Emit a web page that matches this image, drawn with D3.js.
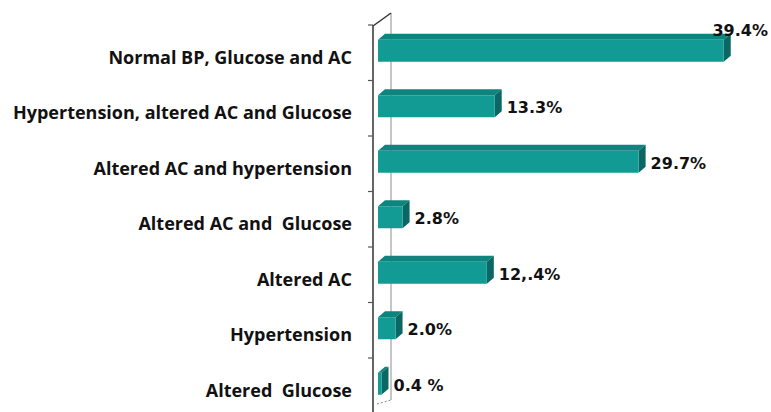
<!DOCTYPE html>
<html>
<head>
<meta charset="utf-8">
<script src="https://cdn.jsdelivr.net/npm/d3@7"></script>
<style>
  body { margin: 0; background: #fff; }
  svg { display: block; }
</style>
</head>
<body>
<div id="chart"></div>
<script>
// categories top to bottom
let categories = [
    'Normal BP, Glucose and AC',
    'Hypertension, altered AC and Glucose',
    'Altered AC and hypertension',
    'Altered AC and  Glucose',
    'Altered AC',
    'Hypertension',
    'Altered  Glucose'
];
let values = [39.4, 13.3, 29.7, 2.8, 12.4, 2.0, 0.4];
let valueLabels = ['39.4%', '13.3%', '29.7%', '2.8%', '12,.4%', '2.0%', '0.4 %'];

let W = 771, H = 412;
let svg = d3.select('#chart').append('svg').attr('width', W).attr('height', H);

// 3d depth of the bars and walls
let depthX = 7, depthY = -6;
let wallX = 373, backX = 391;

let y = d3.scaleBand().domain(categories).range([25, 413.5]);
let x = d3.scaleLinear().domain([0, 40]).range([378, 729]);

// back wall line
svg.append('line')
    .attr('x1', backX).attr('x2', backX)
    .attr('y1', 13).attr('y2', 400)
    .attr('stroke', '#a0a0a0').attr('stroke-width', 1.2);
// top diagonal
svg.append('line')
    .attr('x1', wallX).attr('y1', 26)
    .attr('x2', backX).attr('y2', 13)
    .attr('stroke', '#333').attr('stroke-width', 1.5);
// bottom diagonal (dashed)
svg.append('line')
    .attr('x1', wallX + 4).attr('y1', 404)
    .attr('x2', backX).attr('y2', 400)
    .attr('stroke', '#888').attr('stroke-width', 1)
    .attr('stroke-dasharray', '2,2');

// front axis with boundary ticks
let boundaries = categories.map(c => y(c)).concat([y.range()[1]]);
svg.append('line')
    .attr('x1', wallX).attr('x2', wallX)
    .attr('y1', 25).attr('y2', H)
    .attr('stroke', '#333').attr('stroke-width', 1.5);
svg.selectAll('line.tick')
    .data(boundaries)
    .enter()
    .append('line')
    .attr('class', 'tick')
    .attr('x1', wallX - 5).attr('x2', wallX)
    .attr('y1', d => d).attr('y2', d => d)
    .attr('stroke', '#555').attr('stroke-width', 1.2);

// category labels
svg.selectAll('text.cat')
    .data(categories)
    .enter()
    .append('text')
    .attr('class', 'cat')
    .attr('x', 352)
    .attr('y', d => y(d) + y.bandwidth() / 2 + 11)
    .attr('text-anchor', 'end')
    .attr('font-family', 'Open Sans, sans-serif')
    .attr('font-weight', 'bold')
    .attr('font-size', 18)
    .attr('fill', '#111')
    .style('white-space', 'pre')
    .text(d => d);

// bars
let barH = 22;
let bars = svg.selectAll('g.bar')
    .data(values.map((v, i) => ({cat: categories[i], v: v, label: valueLabels[i]})))
    .enter()
    .append('g')
    .attr('class', 'bar');

function frontTop(d) { return y(d.cat) + y.bandwidth() / 2 - 13; }

// top face
bars.append('path')
    .attr('d', d => {
        let x0 = x(0), x1 = x(d.v), t = frontTop(d);
        return 'M' + x0 + ',' + t + 'L' + (x0 + depthX) + ',' + (t + depthY) +
            'L' + (x1 + depthX) + ',' + (t + depthY) + 'L' + x1 + ',' + t + 'Z';
    })
    .attr('fill', '#0e847f');
// side face
bars.append('path')
    .attr('d', d => {
        let x1 = x(d.v), t = frontTop(d);
        return 'M' + x1 + ',' + t + 'L' + (x1 + depthX) + ',' + (t + depthY) +
            'L' + (x1 + depthX) + ',' + (t + depthY + barH) + 'L' + x1 + ',' + (t + barH) + 'Z';
    })
    .attr('fill', '#0a6764');
// front face
bars.append('rect')
    .attr('x', x(0))
    .attr('y', d => frontTop(d))
    .attr('width', d => x(d.v) - x(0))
    .attr('height', barH)
    .attr('fill', '#129a94');

// value labels, the widest one goes over the bar top when it would not fit
bars.append('text')
    .attr('font-family', 'DejaVu Sans, sans-serif')
    .attr('font-weight', 'bold')
    .attr('font-size', 16)
    .attr('fill', '#111')
    .style('white-space', 'pre')
    .text(d => d.label)
    .each(function (d) {
        let t = d3.select(this);
        let w = this.getComputedTextLength();
        let lx = x(d.v) + depthX + 5;
        if (lx + w > W - 2) {
            t.attr('x', W - 3).attr('text-anchor', 'end').attr('y', frontTop(d) - 4);
        } else {
            t.attr('x', lx).attr('y', frontTop(d) + 18);
        }
    });
</script>
</body>
</html>
